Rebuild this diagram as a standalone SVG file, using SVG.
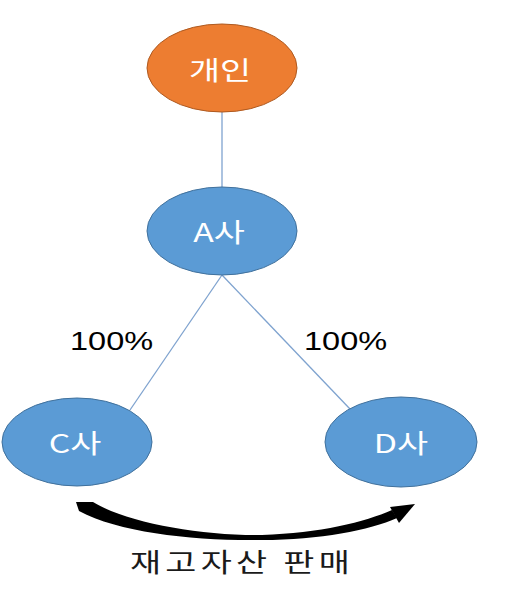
<svg xmlns="http://www.w3.org/2000/svg" width="508" height="594" viewBox="0 0 508 594">
<style>
.node{stroke:#41719c;stroke-width:1}
.blue{fill:#5b9bd5}
.orange{fill:#ed7d31;stroke:#ae5a21}
.nt{font-family:"Noto Sans CJK KR","Noto Sans",sans-serif;font-size:26px;fill:#ffffff;text-anchor:middle}
.lbl{font-family:"Liberation Sans","Noto Sans",sans-serif;font-size:25px;fill:#000000}
.conn{stroke:#7fa3cf;stroke-width:1.3;fill:none}
</style>
<rect width="508" height="594" fill="#ffffff"/>
<g id="connectors">
<line class="conn" x1="222" y1="112" x2="222" y2="187"/>
<line class="conn" x1="222" y1="275" x2="130" y2="410"/>
<line class="conn" x1="222" y1="275" x2="350" y2="409"/>
<path d="M76,502 L93,502 C125,522 200,536 262,535 C320,533 365,522 392,510 L397,518 C370,530 320,540 262,540 C195,541 120,533 79,511 Z" fill="#000000"/>
<polygon points="415,504 390,507 399,523" fill="#000000"/>
</g>
<g id="node-gaein">
<ellipse class="node orange" cx="222" cy="68" rx="75" ry="44"/>
<text class="nt" transform="translate(220,80) scale(1.3,1)">개인</text>
</g>
<g id="node-a">
<ellipse class="node blue" cx="222" cy="231" rx="75" ry="44"/>
<text class="nt" transform="translate(219,242) scale(1.3,1)">A사</text>
</g>
<g id="node-c">
<ellipse class="node blue" cx="77" cy="442" rx="75" ry="44"/>
<text class="nt" transform="translate(75,453) scale(1.3,1)">C사</text>
</g>
<g id="node-d">
<ellipse class="node blue" cx="401" cy="442" rx="76" ry="45"/>
<text class="nt" transform="translate(401,453) scale(1.3,1)">D사</text>
</g>
<g id="labels">
<text class="lbl" transform="translate(70,350) scale(1.3,1)">100%</text>
<text class="lbl" transform="translate(304,350) scale(1.3,1)">100%</text>
<text transform="translate(130,572) scale(1.3,1)" font-family="Noto Sans CJK KR,sans-serif" font-size="26" letter-spacing="3.3" fill="#1a1a1a">재고자산 판매</text>
</g>
</svg>
